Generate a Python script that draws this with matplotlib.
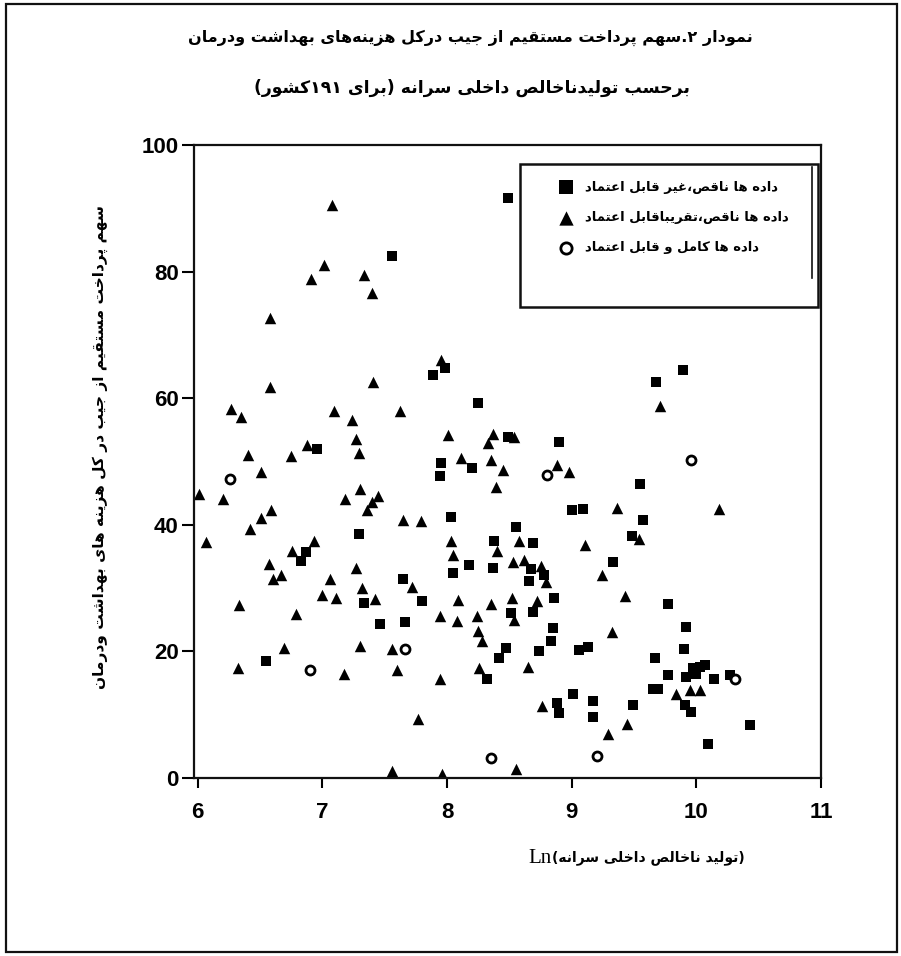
import matplotlib
matplotlib.use("Agg")
import matplotlib.pyplot as plt
from matplotlib.lines import Line2D
from matplotlib.patches import Rectangle

# Ln GDP per capita vs out-of-pocket share, by data quality
poor_x = [8.49, 7.56, 7.98, 7.89, 8.25, 8.49, 6.96, 7.95, 7.94, 8.20, 8.03, 8.38,
          8.55, 8.18, 8.05, 8.37, 7.29, 6.87, 6.83, 7.33, 7.65, 7.80, 8.51, 7.46,
          7.66, 8.47, 8.42, 6.55, 8.32, 9.89, 9.68, 8.90, 9.55, 9.00, 9.09, 9.57,
          9.48, 8.69, 9.33, 8.67, 8.78, 8.66, 8.86, 8.69, 9.77, 8.85, 8.83, 8.74,
          9.06, 9.13, 9.92, 9.90, 9.67, 9.77, 9.97, 10.03, 10.07, 9.92, 10.00, 10.14,
          10.27, 9.65, 9.69, 9.91, 9.96, 9.01, 8.88, 8.90, 9.17, 9.17, 9.49, 10.43,
          10.09]
poor_y = [91.7, 82.5, 64.8, 63.7, 59.3, 53.9, 51.9, 49.8, 47.7, 49.0, 41.3, 37.4,
          39.6, 33.6, 32.4, 33.2, 38.5, 35.7, 34.3, 27.6, 31.4, 27.9, 26.1, 24.3,
          24.7, 20.6, 18.9, 18.5, 15.7, 64.4, 62.5, 53.1, 46.4, 42.4, 42.5, 40.8,
          38.3, 37.2, 34.1, 33.0, 32.0, 31.2, 28.4, 26.2, 27.5, 23.7, 21.6, 20.0,
          20.2, 20.7, 23.9, 20.4, 18.9, 16.3, 17.4, 17.6, 17.8, 15.9, 16.5, 15.7,
          16.3, 14.1, 14.1, 11.6, 10.5, 13.2, 11.8, 10.2, 12.2, 9.6, 11.6, 8.3,
          5.3]

fair_x = [7.08, 7.01, 6.91, 7.33, 7.40, 6.58, 7.95, 6.58, 7.41, 6.27, 6.35, 7.09,
          7.24, 7.62, 8.01, 8.37, 8.33, 8.54, 7.27, 7.29, 6.40, 6.75, 6.88, 6.51,
          6.01, 6.20, 6.59, 6.51, 6.42, 6.07, 7.30, 7.18, 7.45, 7.40, 7.36, 7.65,
          7.79, 6.93, 6.76, 6.57, 6.60, 6.67, 7.27, 7.06, 7.32, 7.00, 7.11, 7.42,
          7.72, 6.33, 8.09, 8.35, 8.52, 8.11, 8.35, 8.45, 8.39, 8.03, 8.05, 8.40,
          8.53, 6.79, 7.94, 8.08, 8.24, 8.25, 8.28, 6.69, 7.30, 7.56, 6.32, 7.17,
          7.60, 7.94, 8.26, 7.77, 7.56, 7.96, 8.55, 9.71, 8.88, 8.98, 9.36, 10.18,
          9.54, 8.58, 9.11, 8.62, 8.75, 9.24, 8.79, 8.72, 9.43, 8.54, 9.32, 8.65,
          9.84, 9.95, 10.03, 8.76, 9.44, 9.29]
fair_y = [90.5, 81.0, 78.9, 79.4, 76.6, 72.7, 66.1, 61.7, 62.6, 58.3, 57.1, 57.9,
          56.6, 58.0, 54.2, 54.4, 52.9, 53.8, 53.6, 51.3, 51.0, 50.9, 52.6, 48.3,
          44.9, 44.1, 42.3, 41.1, 39.3, 37.3, 45.7, 44.0, 44.6, 43.6, 42.3, 40.8,
          40.6, 37.4, 35.9, 33.8, 31.5, 32.0, 33.2, 31.4, 30.0, 28.9, 28.4, 28.3,
          30.1, 27.3, 28.1, 27.5, 28.5, 50.6, 50.2, 48.7, 46.0, 37.5, 35.3, 35.8,
          34.1, 25.9, 25.6, 24.8, 25.6, 23.2, 21.6, 20.6, 20.8, 20.4, 17.3, 16.5,
          17.0, 15.6, 17.4, 9.3, 1.1, 0.7, 1.4, 58.8, 49.4, 48.4, 42.6, 42.5,
          37.7, 37.5, 36.8, 34.4, 33.5, 32.0, 30.9, 28.0, 28.8, 25.0, 23.0, 17.5,
          13.2, 13.9, 13.9, 11.3, 8.6, 7.0]

good_x = [6.26, 8.80, 9.96, 7.66, 6.90, 8.35, 9.20, 10.31]
good_y = [47.3, 47.8, 50.3, 20.4, 17.0, 3.1, 3.5, 15.6]

x_ticks = [6, 7, 8, 9, 10, 11]
y_ticks = [0, 20, 40, 60, 80, 100]

title_1 = "نمودار ۲.سهم پرداخت مستقیم از جیب درکل هزینه‌های بهداشت ودرمان"
title_2 = "برحسب تولیدناخالص داخلی سرانه (برای ۱۹۱کشور)"
y_title = "سهم پرداخت مستقیم از جیب در کل هزینه های بهداشت ودرمان"
x_title = "(تولید ناخالص داخلی سرانه)"
labels = ["داده ها ناقص،غیر قابل اعتماد",
          "داده ها ناقص،تقریباقابل اعتماد",
          "داده ها کامل و قابل اعتماد"]

# presentation forms: code point of the isolated form, final/initial/medial follow
DUAL = {'ب': 0xFE8F, 'پ': 0xFB56, 'ت': 0xFE95, 'ث': 0xFE99, 'ج': 0xFE9D,
        'چ': 0xFB7A, 'ح': 0xFEA1, 'خ': 0xFEA5, 'س': 0xFEB1, 'ش': 0xFEB5,
        'ص': 0xFEB9, 'ض': 0xFEBD, 'ط': 0xFEC1, 'ظ': 0xFEC5, 'ع': 0xFEC9,
        'غ': 0xFECD, 'ف': 0xFED1, 'ق': 0xFED5, 'ک': 0xFB8E, 'گ': 0xFB92,
        'ل': 0xFEDD, 'م': 0xFEE1, 'ن': 0xFEE5, 'ه': 0xFEE9, 'ی': 0xFBFC}
RIGHT = {'ا': 0xFE8D, 'آ': 0xFE81, 'د': 0xFEA9, 'ذ': 0xFEAB, 'ر': 0xFEAD,
         'ز': 0xFEAF, 'ژ': 0xFB8A, 'و': 0xFEED}
DIGITS = set('0123456789۰۱۲۳۴۵۶۷۸۹')


def fa(text):
    out = []
    for i, ch in enumerate(text):
        if ch not in DUAL and ch not in RIGHT:
            if ch != '\u200c':
                out.append(ch)
            continue
        prev = text[i - 1] if i > 0 else ''
        nxt = text[i + 1] if i + 1 < len(text) else ''
        join_prev = prev in DUAL
        if ch in RIGHT:
            out.append(chr(RIGHT[ch] + int(join_prev)))
            continue
        join_next = nxt in DUAL or nxt in RIGHT
        form = {(False, False): 0, (True, False): 1,
                (False, True): 2, (True, True): 3}[(join_prev, join_next)]
        out.append(chr(DUAL[ch] + form))
    out = out[::-1]
    out = [{'(': ')', ')': '('}.get(c, c) for c in out]
    # numbers keep left-to-right order inside the reversed line
    res, run = [], []
    for c in out + ['']:
        if c in DIGITS and c:
            run.append(c)
        else:
            res.extend(run[::-1])
            run = []
            res.append(c)
    return ''.join(res)


FA_FONT = ['DejaVu Sans']
NUM_FONT = ['Liberation Sans', 'DejaVu Sans']

fig = plt.figure(figsize=(9.01, 9.56), dpi=100)
fig.patches.append(Rectangle((6 / 901, 4 / 956), 891 / 901, 948 / 956,
                             transform=fig.transFigure, fill=False,
                             edgecolor='#111111', linewidth=1.6))

ax = fig.add_axes([194 / 901, 178 / 956, 627 / 901, 633 / 956])

ax.scatter(poor_x, poor_y, marker='s', s=62, color='black', linewidths=0,
           label=fa(labels[0]))
ax.scatter(fair_x, fair_y, marker='^', s=68, color='black', linewidths=0,
           label=fa(labels[1]))
ax.scatter(good_x, good_y, marker='o', s=42, facecolor='white',
           edgecolor='black', linewidths=2, label=fa(labels[2]))

ax.set_xlim(5.97, 11)
ax.set_ylim(0, 100)
ax.set_xticks(x_ticks)
ax.set_yticks(y_ticks)
ax.set_xticklabels([str(v) for v in x_ticks], family=NUM_FONT,
                   fontweight='bold', fontsize=16)
ax.set_yticklabels([str(v) for v in y_ticks], family=NUM_FONT,
                   fontweight='bold', fontsize=16)
ax.tick_params(axis='x', direction='out', length=7, width=1.5, pad=10)
ax.tick_params(axis='y', direction='out', length=9, width=1.5, pad=2)
for sp in ax.spines.values():
    sp.set_linewidth(1.6)
    sp.set_color('#111111')

# legend box with doubled right edge
ax.add_patch(Rectangle((0.52, 0.744), 0.475, 0.226, transform=ax.transAxes,
                       fill=False, edgecolor='#111111', linewidth=1.8,
                       zorder=4, clip_on=False))
ax.add_line(Line2D([0.985, 0.985], [0.79, 0.965], transform=ax.transAxes,
                   color='#111111', linewidth=1.2, zorder=4))
leg = ax.legend(loc='upper right', bbox_to_anchor=(0.968, 0.962),
                frameon=False, markerscale=1.25, handletextpad=0.5,
                labelspacing=1.3, prop={'family': FA_FONT, 'weight': 'bold',
                                        'size': 9.5})

fig.text(0.522, 0.960, fa(title_1), ha='center', va='center',
         family=FA_FONT, fontweight='bold', fontsize=11.5)
fig.text(0.524, 0.908, fa(title_2), ha='center', va='center',
         family=FA_FONT, fontweight='bold', fontsize=12.4)
fig.text(0.111, 0.532, fa(y_title), ha='center', va='center', rotation=90,
         family=FA_FONT, fontweight='bold', fontsize=11.1)
fig.text(552 / 901, 0.1025, 'Ln', ha='right', va='center',
         family=['Liberation Serif'], fontsize=15)
fig.text(552 / 901, 0.1025, fa(x_title), ha='left', va='center',
         family=FA_FONT, fontweight='bold', fontsize=10)

fig.savefig('out.png', dpi=100)
